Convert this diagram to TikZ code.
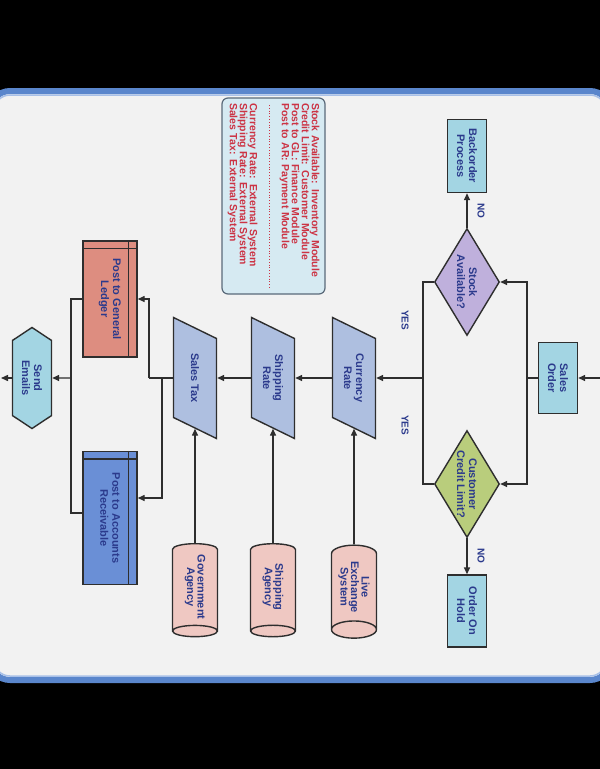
\documentclass[tikz,border=0pt]{standalone}
\usepackage{fontspec}
\setmainfont{Liberation Sans}
\usetikzlibrary{arrows.meta,shapes.geometric,shapes.symbols,calc}

\definecolor{lineC}{HTML}{2E2E2E}
\definecolor{txtC}{HTML}{2B3A8C}
\definecolor{boxBlue}{HTML}{A3D5E3}
\definecolor{stockC}{HTML}{BFB0DC}
\definecolor{creditC}{HTML}{B9CD7C}
\definecolor{paraC}{HTML}{AEBFE0}
\definecolor{cylC}{HTML}{EFC8C2}
\definecolor{glC}{HTML}{DD8D80}
\definecolor{arC}{HTML}{6A8FD6}
\definecolor{legFill}{HTML}{D6EAF2}
\definecolor{legLine}{HTML}{5A6A7A}
\definecolor{legTxt}{HTML}{CC3344}
\definecolor{panelC}{HTML}{F2F2F2}
\definecolor{frameA}{HTML}{5A86CC}
\definecolor{frameB}{HTML}{A8C0E8}

\newcommand\paranode[4]{%
  \filldraw[parashape] (#2-21.5,-#3+60.5) -- (#2+21.5,-#3+39.5) -- (#2+21.5,-#3-60.5) -- (#2-21.5,-#3-39.5) -- cycle;
  \node[paratext] (#1) at (#2,-#3) {#4};}

\begin{document}
\begin{tikzpicture}[x=1pt,y=1pt,
  >={Triangle[length=7pt,width=6pt]},
  base/.style={draw=lineC, line width=1.4pt, text=txtC,
    font=\fontsize{11}{12}\selectfont\bfseries, align=center, rotate=-90, inner sep=1pt},
  procbox/.style={base, rectangle, fill=boxBlue, minimum height=39pt},
  decision/.style={base, diamond, minimum width=107pt, minimum height=65pt, aspect=1.65},
  parashape/.style={draw=lineC, line width=1.4pt, fill=paraC},
  paratext/.style={base, draw=none, rectangle, minimum width=100pt, minimum height=43pt},
  store/.style={base, cylinder, fill=cylC, minimum width=45pt, minimum height=93pt, aspect=0.55,
    inner sep=0pt, font=\fontsize{11}{10.5}\selectfont\bfseries},
  ledger/.style={base, rectangle, minimum height=54pt},
  hexa/.style={base, signal, signal to=east and west, signal pointer angle=113,
    fill=boxBlue, minimum width=101pt, minimum height=39pt},
  legend/.style={rectangle, rounded corners=6pt, draw=legLine, line width=1.2pt, fill=legFill,
    text=legTxt, font=\fontsize{10.5}{10}\selectfont\bfseries, align=left,
    text width=186pt, minimum width=196pt, minimum height=103pt, inner sep=5pt, rotate=-90},
  lbl/.style={text=txtC, font=\fontsize{10}{11}\selectfont\bfseries, rotate=-90, inner sep=0pt},
  conn/.style={draw=lineC, line width=1.4pt}
]
\useasboundingbox (0,0) rectangle (600,-769);
% background and panel
\fill[black] (0,0) rectangle (600,-769);
\draw[frameA, line width=6pt, fill=panelC, rounded corners=20pt] (-10,-91) rectangle (610,-680);
\draw[frameB, line width=1.5pt, rounded corners=16pt] (-6,-95) rectangle (606,-676);

% legend
\node[legend] (leg) at (273.5,-196) {Stock Available: Inventory Module\\
Credit Limit: Customer Module\\
Post to GL: Finance Module\\
Post to AR: Payment Module\\[22pt]
Currency Rate: External System\\
Shipping Rate: External System\\
Sales Tax: External System};
\draw[legTxt, dotted, line width=0.8pt] (269,-105) -- (269,-289);

% top-right cluster
\node[procbox, minimum width=73pt] (bo) at (467,-156) {Backorder\\Process};
\node[decision, fill=stockC] (sa) at (467,-282) {Stock\\Available?};
\node[procbox, minimum width=71pt] (so) at (558,-378) {Sales\\Order};
\node[decision, fill=creditC] (cl) at (467,-484) {Customer\\Credit Limit?};
\node[procbox, minimum width=72pt] (oh) at (467,-611) {Order On\\Hold};

% parallelograms
\paranode{cr}{354}{378}{Currency\\Rate}
\paranode{sr}{273}{378}{Shipping\\Rate}
\paranode{st}{195}{378}{Sales Tax}

% data stores
\node[store] (le) at (354,-587) {Live\\Exchange\\System};
\node[store] (sg) at (273,-587) {Shipping\\Agency};
\node[store] (ga) at (195,-587) {Government\\Agency};

% ledgers
\node[ledger, fill=glC, minimum width=116pt] (gl) at (110,-299) {Post to General\\Ledger};
\node[ledger, fill=arC, minimum width=133pt] (ar) at (110,-518) {Post to Accounts\\Receivable};
\draw[lineC, line width=1.4pt] ([xshift=-9pt]gl.north west) -- ([xshift=-9pt]gl.north east);
\draw[lineC, line width=1.4pt] ([yshift=-8pt]gl.south west) -- ([yshift=-8pt]gl.north west);
\draw[lineC, line width=1.4pt] ([xshift=-9pt]ar.north west) -- ([xshift=-9pt]ar.north east);
\draw[lineC, line width=1.4pt] ([yshift=-8pt]ar.south west) -- ([yshift=-8pt]ar.north west);

% send emails
\node[hexa] (se) at (32,-378) {Send\\Emails};

% junctions
\coordinate (inSO) at (603,-378);
\coordinate (j1) at (527,-378);
\coordinate (j2) at (423,-378);
\coordinate (j3) at (162,-378);
\coordinate (j4) at (149,-378);
\coordinate (j5) at (71,-378);
\coordinate (outSE) at (1,-378);

% connectors
\draw[conn,->] (inSO) -- (so);
\draw[conn] (so) -- (j1);
\draw[conn,->] (j1) |- (sa);
\draw[conn,->] (j1) |- (cl);
\draw[conn,->] (sa) -- (bo);
\draw[conn,->] (cl) -- (oh);
\draw[conn] (sa) -| (j2);
\draw[conn] (cl) -| (j2);
\draw[conn,->] (j2) -- (cr);
\draw[conn,->] (cr) -- (sr);
\draw[conn,->] (sr) -- (st);
\draw[conn] (st) -- (j4);
\draw[conn,->] (j4) |- (gl);
\draw[conn,->] (j3) |- ([yshift=20pt]ar.north);
\draw[conn] (gl) -| (j5);
\draw[conn] (j5) |- ([yshift=5pt]ar.south);
\draw[conn,->] (j5) -- (se);
\draw[conn,->] (se) -- (outSE);
\draw[conn,->] (le) -- (cr);
\draw[conn,->] (sg) -- (sr);
\draw[conn,->] (ga) -- (st);

% labels
\node[lbl] (no1) at (481,-211) {NO};
\node[lbl] (no2) at (481,-556) {NO};
\node[lbl] (yes1) at (405,-320) {YES};
\node[lbl] (yes2) at (405,-425) {YES};
\end{tikzpicture}
\end{document}
